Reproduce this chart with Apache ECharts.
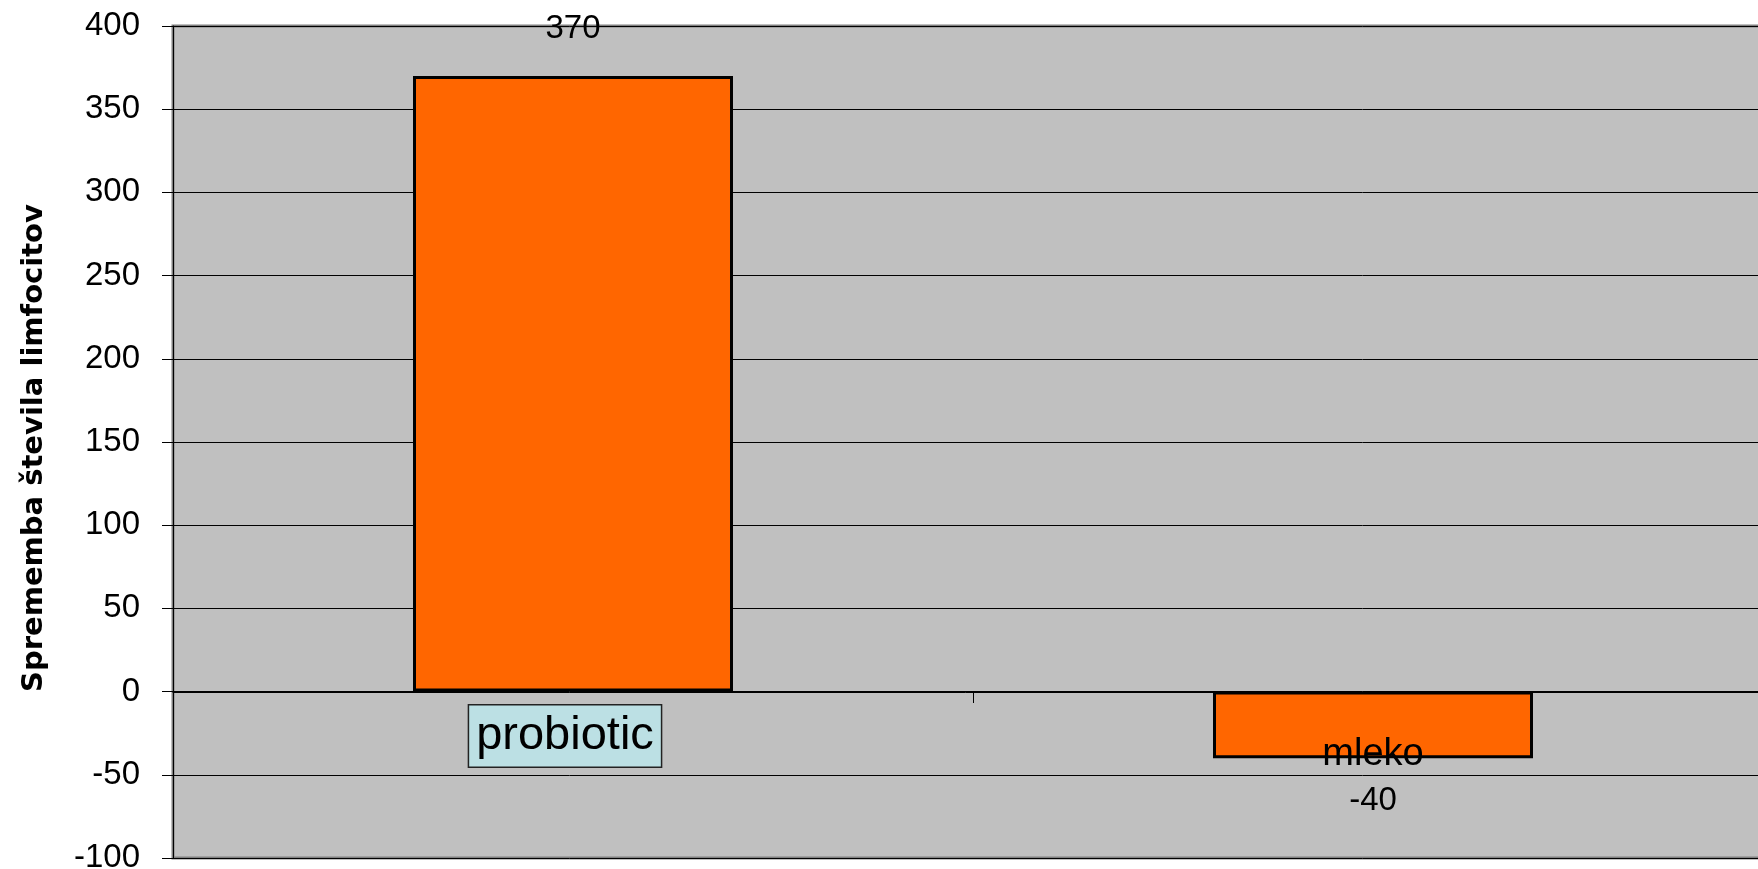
<!DOCTYPE html>
<html>
<head>
<meta charset="utf-8">
<script src="https://cdn.jsdelivr.net/npm/echarts@6/dist/echarts.min.js"></script>
<style>
html,body{margin:0;padding:0;background:#fff;}
#c{width:1758px;height:869px;}
</style>
</head>
<body>
<div id="c"></div>
<script>
const categories = ['probiotic', 'mleko'];
const values = [370, -40];
const yTicks = { min: -100, max: 400, interval: 50 };
const yAxisTitle = 'Sprememba števila limfocitov';

const chart = echarts.init(document.getElementById('c'));
const FONT = '"Liberation Sans", Arial, sans-serif';

chart.setOption({
  animation: false,
  textStyle: { fontFamily: FONT },
  grid: {
    left: 173, top: 26, bottom: 11, width: 1600,
    outerBoundsMode: 'none', containLabel: false,
    show: true, backgroundColor: '#C0C0C0', borderColor: '#808080', borderWidth: 3
  },
  xAxis: {
    type: 'category',
    data: categories,
    position: 'bottom',
    offset: -166,
    z: 10,
    axisLine: { onZero: false, lineStyle: { color: '#000', width: 1 } },
    axisTick: { show: true, length: 11, lineStyle: { color: '#000' } },
    axisLabel: {
      interval: 0,
      hideOverlap: false,
      margin: 19,
      color: '#000',
      fontFamily: FONT,
      formatter: function (v) {
        return v === 'probiotic' ? '{p|' + v + '}{s|}' : '{m|' + v + '}';
      },
      rich: {
        p: { fontSize: 47, lineHeight: 50, backgroundColor: '#BCE0E4', borderColor: '#222', borderWidth: 1.5, padding: [7, 7, 7, 7], color: '#000', fontFamily: FONT },
        s: { width: 16 },
        m: { fontSize: 38, lineHeight: 40, padding: [47, 0, 0, 0], color: '#000', fontFamily: FONT }
      }
    },
    splitLine: { show: false }
  },
  yAxis: {
    type: 'value',
    min: yTicks.min, max: yTicks.max, interval: yTicks.interval,
    name: yAxisTitle,
    nameLocation: 'middle',
    nameRotate: 90,
    nameGap: 124,
    nameTextStyle: { fontSize: 29, fontWeight: 'bold', color: '#000', fontFamily: '"DejaVu Sans", sans-serif', padding: [0, 12, 0, 0] },
    axisLine: { show: true, lineStyle: { color: '#000', width: 1 } },
    axisTick: { show: true, length: 11, lineStyle: { color: '#000' } },
    axisLabel: { fontSize: 33, color: '#000', margin: 33, fontFamily: FONT },
    splitLine: { show: true, lineStyle: { color: '#000', width: 1 } }
  },
  series: [{
    type: 'bar',
    barWidth: '40%',
    data: values.map(function (v) {
      return {
        value: v,
        label: {
          show: true,
          position: v >= 0 ? 'top' : 'bottom',
          distance: v >= 0 ? 31 : 26,
          fontSize: 33, color: '#000', fontFamily: FONT
        }
      };
    }),
    itemStyle: { color: '#FF6600', borderColor: '#000', borderWidth: 3 }
  }]
});
</script>
</body>
</html>
